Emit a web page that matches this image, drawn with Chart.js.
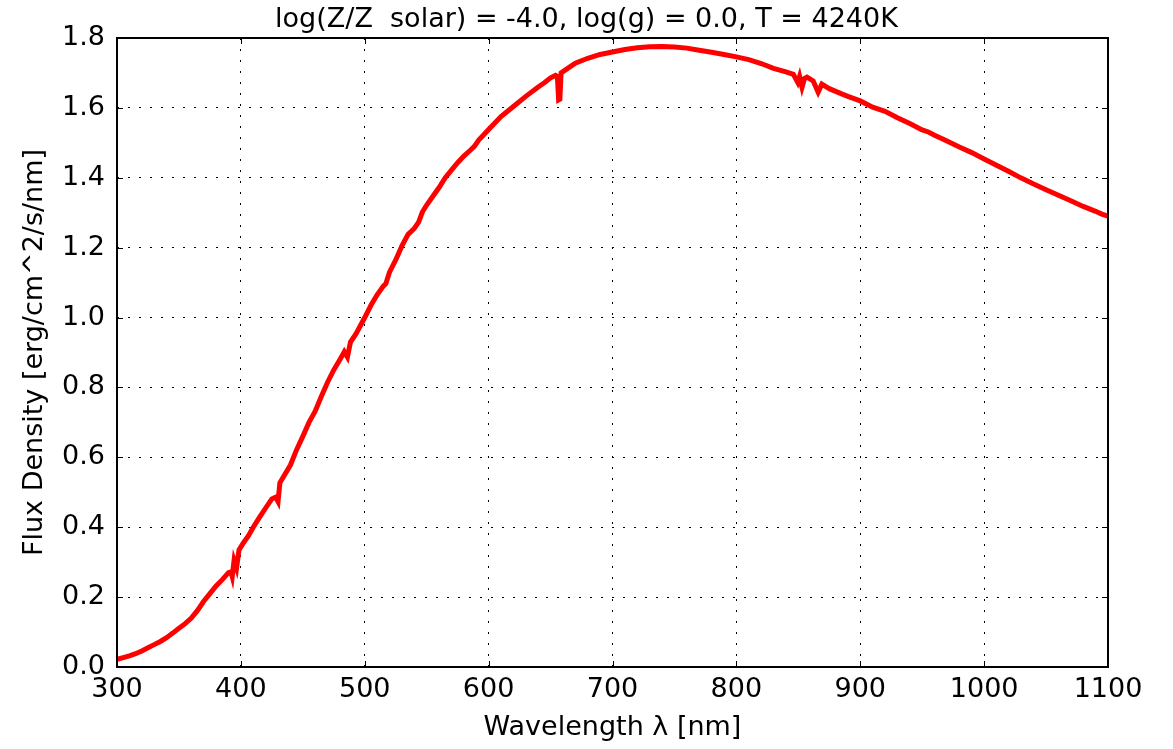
<!DOCTYPE html>
<html lang="en">
<head>
  <meta charset="UTF-8">
  <title>Spectrum</title>
  <script src="https://cdn.jsdelivr.net/npm/chart.js"></script>
  <style>
    body { margin: 0; padding: 0; background: #fff; }
    #wrap { position: relative; width: 1173px; height: 749px; }
  </style>
</head>
<body>
  <div id="wrap"><canvas id="chart"></canvas></div>
  <script>
    // wavelength (nm) and flux
    const wavelength = [300, 305, 310, 315, 320, 325, 330, 335, 340, 345, 350, 355, 360, 365, 370, 375, 380, 385, 390, 392, 393, 394.5, 396.5, 398.5,
      402, 406, 410, 415, 420, 425, 428, 430, 431.5, 435, 440, 445, 450, 455, 460, 465, 470, 475, 480, 483.5, 486, 488.5, 493, 500,
      505, 510, 515, 517, 520, 525, 530, 535, 540, 543.5, 546.5, 550, 555, 560, 565, 570, 575, 580, 585, 588.5, 592, 600,
      610, 620, 630, 640, 645, 650, 654, 655.5, 656.5, 657.5, 658.5, 665, 670, 680, 690, 700, 710, 720, 730, 740, 750, 760,
      770, 780, 790, 800, 810, 820, 830, 840, 846, 849.5, 851, 853, 855, 857, 862, 866, 869, 875, 885, 890, 900, 910, 920,
      930, 940, 950, 955, 960, 970, 980, 990, 1000, 1010, 1020, 1030, 1040, 1050, 1060, 1070, 1080, 1090, 1095, 1100];
    const flux = [0.022, 0.027, 0.032, 0.038, 0.046, 0.055, 0.064, 0.073, 0.084, 0.097, 0.111, 0.124, 0.140, 0.162, 0.188, 0.210, 0.232, 0.250, 0.270, 0.272, 0.259, 0.305, 0.283, 0.335,
      0.355, 0.375, 0.400, 0.428, 0.455, 0.481, 0.486, 0.473, 0.527, 0.548, 0.578, 0.622, 0.660, 0.700, 0.732, 0.775, 0.815, 0.850, 0.880, 0.902, 0.887, 0.930, 0.954, 1.000,
      1.035, 1.065, 1.090, 1.097, 1.130, 1.165, 1.205, 1.238, 1.255, 1.273, 1.302, 1.322, 1.347, 1.372, 1.400, 1.422, 1.443, 1.462, 1.478, 1.490, 1.508, 1.538,
      1.575, 1.604, 1.633, 1.660, 1.672, 1.686, 1.693, 1.690, 1.623, 1.625, 1.700, 1.716, 1.728, 1.742, 1.753, 1.760, 1.767, 1.772, 1.775, 1.776, 1.774, 1.771,
      1.765, 1.759, 1.753, 1.746, 1.738, 1.727, 1.713, 1.703, 1.696, 1.673, 1.690, 1.659, 1.684, 1.688, 1.677, 1.645, 1.668, 1.655, 1.640, 1.633, 1.620, 1.602, 1.590,
      1.572, 1.555, 1.537, 1.531, 1.522, 1.505, 1.488, 1.472, 1.454, 1.436, 1.418, 1.399, 1.382, 1.366, 1.350, 1.334, 1.318, 1.304, 1.296, 1.290];

    const xTicks = [300, 400, 500, 600, 700, 800, 900, 1000, 1100];
    const yTicks = [0, 0.2, 0.4, 0.6, 0.8, 1.0, 1.2, 1.4, 1.6, 1.8];
    const titleText = 'log(Z/Z  solar) = -4.0, log(g) = 0.0, T = 4240K';

    const points = wavelength.map((w, i) => ({ x: w, y: flux[i] }));

    const font = 'DejaVu Sans';
    const fsize = 27;

    // black frame on all sides with inward ticks (matplotlib classic look)
    const framePlugin = {
      id: 'frame',
      afterDatasetsDraw(chart) {
        const { ctx, chartArea: a, scales } = chart;
        ctx.save();
        ctx.strokeStyle = '#000';
        ctx.lineWidth = 1;
        const len = 6;
        ctx.beginPath();
        xTicks.forEach(v => {
          const px = Math.round(scales.x.getPixelForValue(v)) + 0.5;
          ctx.moveTo(px, a.bottom); ctx.lineTo(px, a.bottom - len);
          ctx.moveTo(px, a.top); ctx.lineTo(px, a.top + len);
        });
        yTicks.forEach(v => {
          const py = Math.round(scales.y.getPixelForValue(v)) + 0.5;
          ctx.moveTo(a.left, py); ctx.lineTo(a.left + len, py);
          ctx.moveTo(a.right, py); ctx.lineTo(a.right - len, py);
        });
        ctx.stroke();
        ctx.lineWidth = 2;
        ctx.strokeRect(a.left, a.top, a.right - a.left, a.bottom - a.top);

        // title, centred on the whole figure
        ctx.fillStyle = '#000';
        ctx.font = fsize + 'px "' + font + '"';
        ctx.textAlign = 'center';
        ctx.textBaseline = 'middle';
        ctx.fillText(titleText, chart.width / 2, 20);
        ctx.restore();
      }
    };

    new Chart(document.getElementById('chart'), {
      type: 'line',
      data: {
        datasets: [{
          data: points,
          borderColor: '#ff0000',
          borderWidth: 5,
          pointRadius: 0,
          tension: 0,
          fill: false
        }]
      },
      options: {
        responsive: true,
        maintainAspectRatio: false,
        animation: false,
        layout: { padding: { left: 0, right: 65, top: 38, bottom: 0 } },
        plugins: {
          legend: { display: false },
          tooltip: { enabled: false },
          title: { display: false }
        },
        scales: {
          x: {
            type: 'linear',
            min: 300,
            max: 1100,
            afterFit: s => { s.height = 82; },
            afterBuildTicks: s => { s.ticks = xTicks.map(v => ({ value: v })); },
            ticks: {
              color: '#000',
              font: { family: font, size: fsize },
              padding: 7,
              maxRotation: 0,
              callback: v => String(v)
            },
            grid: { color: '#000', lineWidth: 1, drawTicks: false },
            border: { display: false, dash: [2, 9] },
            title: {
              display: true,
              text: 'Wavelength λ [nm]',
              color: '#000',
              font: { family: font, size: fsize },
              padding: { top: 4, bottom: 5 }
            }
          },
          y: {
            type: 'linear',
            min: 0,
            max: 1.8,
            afterFit: s => { s.width = 117; },
            afterBuildTicks: s => { s.ticks = yTicks.map(v => ({ value: v })); },
            ticks: {
              color: '#000',
              font: { family: font, size: fsize },
              padding: 12,
              callback: v => Number(v).toFixed(1)
            },
            grid: { color: '#000', lineWidth: 1, drawTicks: false },
            border: { display: false, dash: [2, 9] },
            title: {
              display: true,
              text: 'Flux Density [erg/cm^2/s/nm]',
              color: '#000',
              font: { family: font, size: fsize },
              padding: { top: 19, bottom: 4 }
            }
          }
        }
      },
      plugins: [framePlugin]
    });
  </script>
</body>
</html>
